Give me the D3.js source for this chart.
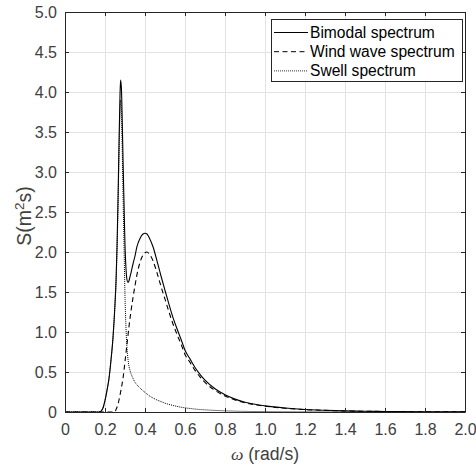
<!DOCTYPE html>
<html>
<head>
<meta charset="utf-8">
<script src="https://cdn.jsdelivr.net/npm/d3@7"></script>
<style>
  body { margin: 0; background: #fff; }
  text { font-family: Arial, "Liberation Sans", sans-serif; }
</style>
</head>
<body>
<div id="chart"></div>
<script>
// Frequency grid (rad/s) shared by the three spectra
const omega = [0, 0.15, 0.17, 0.18, 0.19, 0.2, 0.21, 0.22, 0.23, 0.24, 0.25, 0.255, 0.26, 0.265, 0.27, 0.275, 0.278,
  0.282, 0.286, 0.29, 0.295, 0.3, 0.305, 0.31, 0.315, 0.32, 0.325, 0.33, 0.34, 0.35, 0.36, 0.375, 0.39, 0.4, 0.41, 0.42,
  0.44, 0.46, 0.48, 0.5, 0.52, 0.54, 0.56, 0.58, 0.6, 0.625, 0.65, 0.675, 0.7, 0.75, 0.8, 0.85, 0.9, 0.95, 1.0,
  1.1, 1.2, 1.3, 1.4, 1.5, 1.6, 1.8, 2.0];

const bimodal = [0, 0, 0, 0.01, 0.05, 0.145, 0.27, 0.42, 0.65, 0.93, 1.35, 1.63, 2.06, 2.65, 3.35, 3.96, 4.15,
  4.05, 3.66, 3.17, 2.62, 2.08, 1.79, 1.65, 1.62, 1.64, 1.69, 1.74, 1.85, 1.95, 2.07, 2.17, 2.225, 2.235, 2.225, 2.185,
  2.065, 1.89, 1.7, 1.52, 1.345, 1.18, 1.04, 0.91, 0.772, 0.664, 0.557, 0.471, 0.397, 0.29, 0.215, 0.161, 0.123, 0.096, 0.077,
  0.05, 0.032, 0.0215, 0.014, 0.0097, 0.0065, 0.0032, 0.0016];

const wind = [0, 0, 0, 0, 0, 0, 0, 0, 0, 0, 0, 0.03, 0.06, 0.1, 0.15, 0.21, 0.25,
  0.3, 0.36, 0.42, 0.52, 0.63, 0.74, 0.85, 0.96, 1.07, 1.17, 1.26, 1.43, 1.58, 1.72, 1.87, 1.96, 1.99, 2.0, 1.98,
  1.89, 1.74, 1.57, 1.41, 1.25, 1.1, 0.97, 0.85, 0.72, 0.62, 0.52, 0.44, 0.37, 0.27, 0.2, 0.15, 0.115, 0.09, 0.072,
  0.047, 0.03, 0.02, 0.013, 0.009, 0.006, 0.003, 0.0015];

const swell = [0, 0, 0, 0.01, 0.05, 0.145, 0.27, 0.42, 0.65, 0.93, 1.35, 1.6, 2.0, 2.55, 3.2, 3.75, 3.9,
  3.75, 3.3, 2.75, 2.1, 1.45, 1.05, 0.8, 0.66, 0.57, 0.52, 0.48, 0.42, 0.37, 0.34, 0.3, 0.265, 0.245, 0.225, 0.205,
  0.175, 0.15, 0.13, 0.11, 0.095, 0.082, 0.07, 0.06, 0.052, 0.044, 0.037, 0.031, 0.027, 0.02, 0.015, 0.011, 0.008, 0.006, 0.005,
  0.003, 0.002, 0.0015, 0.001, 0.0007, 0.0005, 0.0002, 0.0001];

const xTicks = [0, 0.2, 0.4, 0.6, 0.8, 1.0, 1.2, 1.4, 1.6, 1.8, 2.0];
const yTicks = [0, 0.5, 1.0, 1.5, 2.0, 2.5, 3.0, 3.5, 4.0, 4.5, 5.0];

const seriesNames = ['Bimodal spectrum', 'Wind wave spectrum', 'Swell spectrum'];
const seriesDash = [null, '5,3.5', '1,1'];
const seriesData = [bimodal, wind, swell];

const width = 476, height = 465;
const margin = { top: 12, right: 11, bottom: 53, left: 65 };
const axisColor = '#262626';
const labelColor = '#404040';

const svg = d3.select('#chart').append('svg')
  .attr('width', width)
  .attr('height', height);

const x = d3.scaleLinear().domain([0, 2]).range([margin.left, width - margin.right]);
const y = d3.scaleLinear().domain([0, 5]).range([height - margin.bottom, margin.top]);

// grid
const grid = svg.append('g').attr('stroke', '#e3e3e3').attr('stroke-width', 1);
grid.selectAll('line.gx').data(xTicks.slice(1, -1)).join('line')
  .attr('x1', d => Math.round(x(d)) + 0.5).attr('x2', d => Math.round(x(d)) + 0.5)
  .attr('y1', y(0)).attr('y2', y(5));
grid.selectAll('line.gy').data(yTicks.slice(1, -1)).join('line')
  .attr('y1', d => Math.round(y(d)) + 0.5).attr('y2', d => Math.round(y(d)) + 0.5)
  .attr('x1', x(0)).attr('x2', x(2));

// curves
const line = d3.line()
  .x((d, i) => x(omega[i]))
  .y(d => y(d))
  .curve(d3.curveMonotoneX);

seriesData.forEach((vals, i) => {
  svg.append('path')
    .datum(vals)
    .attr('fill', 'none')
    .attr('stroke', '#000')
    .attr('stroke-width', i === 2 ? 1 : 1.1)
    .attr('stroke-dasharray', seriesDash[i])
    .attr('d', line);
});

// axes (box with inward ticks)
const fmt = d => d === 0 ? '0' : d3.format('.1f')(d);
const axBottom = svg.append('g').attr('transform', `translate(0,${y(0)})`)
  .call(d3.axisBottom(x).tickValues(xTicks).tickFormat(fmt).tickSizeInner(-4).tickSizeOuter(0).tickPadding(12));
const axLeft = svg.append('g').attr('transform', `translate(${x(0)},0)`)
  .call(d3.axisLeft(y).tickValues(yTicks).tickFormat(fmt).tickSizeInner(-4).tickSizeOuter(0).tickPadding(8));
const axTop = svg.append('g').attr('transform', `translate(0,${y(5)})`)
  .call(d3.axisTop(x).tickValues(xTicks).tickFormat('').tickSizeInner(-4).tickSizeOuter(0));
const axRight = svg.append('g').attr('transform', `translate(${x(2)},0)`)
  .call(d3.axisRight(y).tickValues(yTicks).tickFormat('').tickSizeInner(-4).tickSizeOuter(0));

[axBottom, axLeft, axTop, axRight].forEach(a => {
  a.selectAll('path, line').attr('stroke', axisColor);
  a.selectAll('text').attr('fill', labelColor).style('font-size', '16px')
    .style('font-family', 'Arial, "Liberation Sans", sans-serif');
});

// axis labels
svg.append('text')
  .attr('x', x(1)).attr('y', 459.5)
  .attr('text-anchor', 'middle')
  .attr('fill', labelColor)
  .style('font-size', '17.6px')
  .html('<tspan font-style="italic" font-family="\'Liberation Serif\', serif">ω</tspan> (rad/s)');

svg.append('text')
  .attr('transform', `translate(31,216) rotate(-90)`)
  .attr('text-anchor', 'middle')
  .attr('fill', labelColor)
  .style('font-size', '19.5px')
  .html('S(m<tspan baseline-shift="super" font-size="13.5px">2</tspan>s)');

// legend
const legend = svg.append('g');
legend.append('rect')
  .attr('x', 271.5).attr('y', 19.5).attr('width', 191).attr('height', 62)
  .attr('fill', '#fff').attr('stroke', axisColor).attr('stroke-width', 1);

seriesNames.forEach((name, i) => {
  const ly = 32.5 + i * 19.2;
  legend.append('line')
    .attr('x1', 274).attr('x2', 308).attr('y1', ly).attr('y2', ly)
    .attr('stroke', '#000').attr('stroke-width', i === 2 ? 0.8 : 1)
    .attr('stroke-dasharray', seriesDash[i]);
  legend.append('text')
    .attr('x', 310).attr('y', ly + 5.5)
    .attr('fill', '#000')
    .style('font-size', '15.6px')
    .text(name);
});
</script>
</body>
</html>
